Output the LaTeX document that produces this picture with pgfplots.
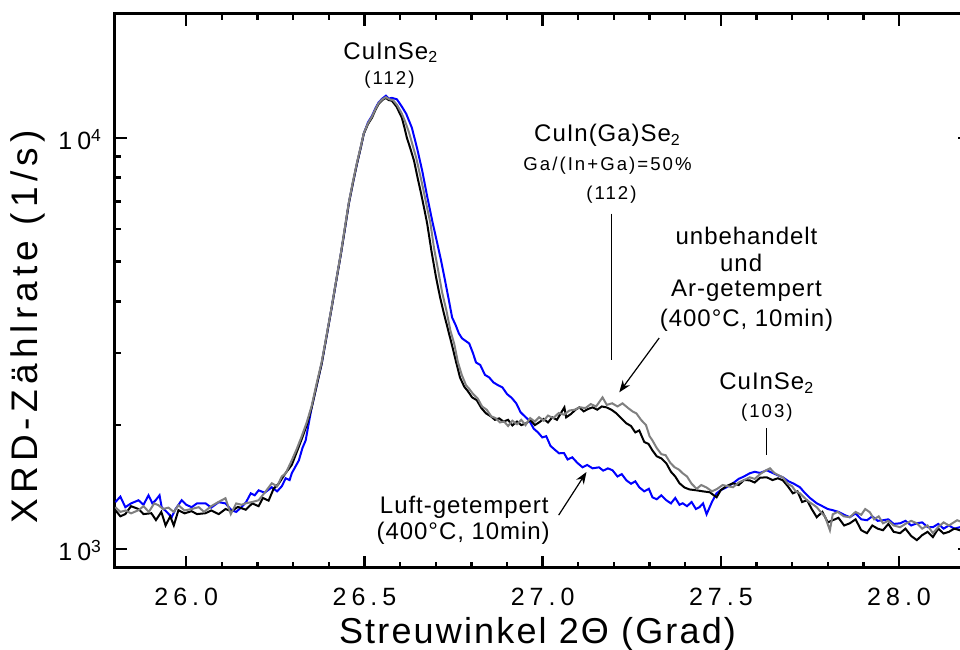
\documentclass[border=0pt]{standalone}
\usepackage{fontspec}
\setmainfont{Liberation Sans}
\usepackage{pgfplots}
\pgfplotsset{compat=1.18}
\usetikzlibrary{arrows.meta}
\newfontfamily\tickfont[LetterSpace=20]{Liberation Sans}
\newfontfamily\ylabfont[LetterSpace=14]{Liberation Sans}
\newfontfamily\xlabfont[LetterSpace=6]{Liberation Sans}
\newfontfamily\annfont[LetterSpace=4]{Liberation Sans}
\newfontfamily\smallfont[LetterSpace=11]{Liberation Sans}
\newcommand\ann{\annfont\fontsize{12}{14}\selectfont}
\newcommand\sml{\smallfont\fontsize{9.3}{11}\selectfont}

\pgfplotstableread{
x y
25.801 1242
25.815 1200
25.829 1215
25.845 1270
25.866 1250
25.880 1215
25.902 1221
25.915 1175
25.930 1230
25.942 1140
25.955 1200
25.965 1140
25.978 1242
25.995 1220
26.015 1235
26.030 1215
26.054 1221
26.070 1240
26.091 1215
26.110 1250
26.127 1235
26.145 1265
26.167 1245
26.185 1290
26.203 1270
26.215 1330
26.231 1310
26.245 1400
26.259 1440
26.279 1530
26.296 1600
26.310 1720
26.324 1850
26.338 2000
26.352 2209
26.366 2500
26.380 2825
26.394 3300
26.408 3864
26.421 4500
26.434 5226
26.445 6000
26.456 6913
26.468 7800
26.479 8648
26.490 9500
26.498 10225
26.510 10800
26.521 11180
26.531 11700
26.540 12090
26.550 12350
26.560 12500
26.568 12350
26.577 12300
26.590 11900
26.605 11180
26.612 10600
26.619 10000
26.629 9400
26.639 8795
26.649 8000
26.659 7311
26.668 6700
26.676 6182
26.688 5300
26.701 4569
26.712 4100
26.723 3736
26.735 3400
26.746 3120
26.757 2850
26.768 2612
26.780 2480
26.790 2420
26.802 2336
26.815 2300
26.828 2200
26.841 2136
26.855 2100
26.866 2060
26.878 2077
26.890 2040
26.903 2060
26.915 1997
26.928 2040
26.940 2000
26.954 2020
26.965 2060
26.978 2000
26.990 2031
27.003 2070
27.015 2030
27.027 2089
27.040 2060
27.050 2130
27.061 2209
27.066 2089
27.080 2130
27.092 2180
27.103 2209
27.115 2160
27.128 2190
27.140 2209
27.153 2180
27.166 2220
27.179 2209
27.193 2180
27.207 2136
27.220 2080
27.235 2020
27.248 1990
27.260 1920
27.271 1942
27.285 1820
27.297 1800
27.308 1736
27.320 1680
27.333 1660
27.347 1615
27.360 1540
27.372 1500
27.384 1444
27.398 1410
27.412 1395
27.432 1388
27.450 1380
27.469 1373
27.488 1335
27.500 1390
27.515 1420
27.534 1444
27.550 1430
27.565 1470
27.581 1468
27.595 1450
27.610 1490
27.629 1493
27.645 1470
27.660 1485
27.674 1468
27.688 1420
27.702 1365
27.715 1380
27.728 1300
27.742 1313
27.755 1250
27.769 1194
27.785 1230
27.800 1160
27.814 1174
27.830 1190
27.846 1140
27.862 1154
27.878 1180
27.894 1110
27.910 1092
27.925 1140
27.940 1120
27.955 1110
27.970 1150
27.985 1100
28.003 1092
28.018 1120
28.034 1075
28.050 1050
28.065 1080
28.080 1100
28.095 1068
28.110 1120
28.125 1090
28.140 1100
28.155 1120
28.171 1110
28.190 1080
}\blackdata

\pgfplotstableread{
x y
25.801 1263
25.815 1230
25.830 1240
25.845 1220
25.866 1242
25.880 1270
25.895 1230
25.910 1290
25.922 1277
25.935 1250
25.950 1260
25.965 1230
25.978 1277
25.995 1240
26.015 1250
26.035 1263
26.050 1230
26.070 1270
26.090 1300
26.110 1328
26.125 1215
26.140 1290
26.155 1280
26.167 1291
26.185 1300
26.203 1313
26.220 1370
26.240 1444
26.255 1420
26.268 1500
26.279 1527
26.296 1642
26.310 1750
26.324 1880
26.338 2030
26.352 2230
26.366 2530
26.380 2850
26.394 3320
26.408 3880
26.421 4520
26.434 5250
26.445 6050
26.456 6950
26.468 7850
26.479 8700
26.490 9550
26.498 10250
26.510 10850
26.521 11250
26.531 11750
26.540 12150
26.550 12400
26.560 12550
26.570 12400
26.580 12350
26.592 12000
26.605 11440
26.615 10900
26.625 10300
26.635 9600
26.645 8950
26.655 8200
26.665 7500
26.675 6800
26.685 6200
26.695 5400
26.706 4800
26.718 4200
26.730 3800
26.741 3400
26.752 3150
26.762 2850
26.773 2650
26.785 2500
26.794 2450
26.805 2380
26.818 2320
26.830 2220
26.843 2180
26.856 2100
26.868 2080
26.880 2030
26.892 2040
26.903 1990
26.915 2050
26.928 2010
26.940 2060
26.952 2000
26.965 2080
26.978 2040
26.990 2090
27.003 2050
27.015 2110
27.030 2080
27.045 2140
27.060 2120
27.075 2170
27.090 2180
27.105 2210
27.120 2200
27.135 2250
27.150 2220
27.168 2336
27.180 2240
27.195 2260
27.210 2220
27.224 2259
27.240 2200
27.252 2160
27.263 2136
27.276 2060
27.290 2000
27.300 1880
27.308 1836
27.320 1760
27.333 1700
27.345 1690
27.358 1620
27.370 1580
27.382 1560
27.393 1527
27.405 1500
27.418 1440
27.432 1400
27.445 1430
27.460 1410
27.475 1380
27.490 1400
27.505 1430
27.520 1420
27.534 1412
27.550 1450
27.565 1470
27.581 1493
27.595 1480
27.610 1520
27.625 1550
27.638 1570
27.650 1530
27.662 1510
27.674 1493
27.688 1440
27.700 1420
27.710 1380
27.722 1365
27.735 1330
27.748 1300
27.760 1280
27.769 1263
27.780 1230
27.792 1200
27.806 1110
27.814 1214
27.828 1230
27.845 1200
27.862 1194
27.878 1230
27.894 1210
27.905 1250
27.918 1228
27.930 1180
27.943 1200
27.955 1154
27.970 1170
27.985 1140
28.003 1129
28.018 1150
28.034 1170
28.050 1154
28.065 1120
28.080 1140
28.095 1092
28.110 1130
28.125 1160
28.140 1140
28.163 1174
28.190 1150
}\graydata

\pgfplotstableread{
x y
25.801 1299
25.815 1340
25.829 1263
25.845 1290
25.866 1313
25.880 1280
25.894 1350
25.905 1290
25.914 1313
25.925 1350
25.931 1263
25.945 1230
25.959 1194
25.970 1250
25.987 1313
26.000 1280
26.015 1263
26.030 1290
26.054 1291
26.070 1260
26.091 1299
26.110 1290
26.127 1242
26.140 1230
26.155 1263
26.168 1300
26.181 1365
26.192 1350
26.203 1388
26.220 1370
26.240 1412
26.255 1380
26.268 1420
26.279 1485
26.290 1470
26.296 1527
26.316 1642
26.326 1760
26.335 1836
26.345 2050
26.352 2209
26.366 2500
26.380 2825
26.394 3300
26.408 3864
26.421 4500
26.434 5226
26.445 6000
26.456 6913
26.468 7800
26.479 8648
26.490 9500
26.498 10225
26.510 10900
26.521 11300
26.531 11800
26.540 12200
26.550 12450
26.560 12650
26.568 12450
26.577 12500
26.591 12400
26.605 11900
26.617 11440
26.625 11000
26.633 10575
26.648 9400
26.662 8313
26.676 7200
26.690 6286
26.703 5600
26.715 5025
26.726 4500
26.737 4018
26.746 3654
26.756 3500
26.765 3341
26.774 3250
26.785 3200
26.794 3159
26.804 3000
26.813 2841
26.825 2800
26.838 2650
26.850 2612
26.862 2540
26.875 2500
26.887 2471
26.900 2380
26.913 2330
26.926 2259
26.938 2150
26.950 2100
26.962 2054
26.975 1960
26.987 1920
26.999 1867
27.010 1880
27.022 1780
27.035 1740
27.046 1708
27.060 1710
27.070 1650
27.083 1670
27.097 1620
27.112 1579
27.125 1600
27.140 1570
27.158 1579
27.170 1550
27.183 1570
27.196 1553
27.210 1500
27.222 1520
27.235 1468
27.248 1440
27.260 1460
27.271 1412
27.285 1380
27.298 1400
27.308 1335
27.320 1320
27.333 1350
27.347 1313
27.360 1290
27.372 1330
27.384 1280
27.393 1291
27.405 1270
27.418 1300
27.430 1250
27.440 1263
27.450 1290
27.460 1214
27.475 1300
27.488 1365
27.500 1390
27.515 1410
27.534 1444
27.550 1480
27.565 1500
27.581 1527
27.595 1540
27.610 1530
27.629 1553
27.645 1530
27.660 1510
27.674 1493
27.690 1460
27.705 1440
27.722 1412
27.735 1370
27.750 1330
27.769 1291
27.785 1270
27.800 1250
27.814 1242
27.830 1230
27.846 1210
27.862 1194
27.878 1220
27.894 1180
27.910 1174
27.925 1200
27.940 1170
27.955 1174
27.970 1180
27.985 1150
28.003 1154
28.018 1170
28.034 1140
28.050 1154
28.065 1160
28.080 1130
28.095 1129
28.110 1150
28.125 1120
28.140 1140
28.155 1120
28.171 1129
28.190 1140
}\bluedata

\begin{document}
\begin{tikzpicture}
\begin{axis}[
  scale only axis,
  width=427.66pt, height=276.85pt,
  ymode=log,
  xmin=25.8, xmax=28.2,
  ymin=900, ymax=20000,
  axis line style={line width=1.5pt},
  tick style={line width=1.2pt,black},
  major tick length=6pt,
  minor tick length=3pt,
  tick align=inside,
  xtick pos=both,
  ytick pos=both,
  xticklabel pos=lower,
  yticklabel pos=left,
  xtick={26,26.5,27,27.5,28},
  xticklabels={26.0,26.5,27.0,27.5,28.0},
  minor x tick num=4,
  ytick={1000,10000},
  yticklabels={10\textsuperscript{3},10\textsuperscript{4}},
  minor ytick={2000,3000,4000,5000,6000,7000,8000,9000},
  xticklabel style={font=\tickfont\fontsize{12.5}{15}\selectfont,anchor=base,yshift=-19pt},
  yticklabel style={font=\tickfont\fontsize{12.5}{15}\selectfont,anchor=base east,xshift=-3pt,yshift=-6pt},
  xlabel={Streuwinkel 2Θ (Grad)},
  ylabel={XRD-Zählrate (1/s)},
  xlabel style={font=\xlabfont\fontsize{18}{22}\selectfont,at={(axis description cs:0.494,-0.1378)},anchor=base},
  ylabel style={font=\ylabfont\fontsize{18.5}{22}\selectfont,at={(axis description cs:-0.1017,0.4347)},anchor=center},
  clip=true,
]
\addplot[blue, line width=1pt] table[x=x,y=y] {\bluedata};
\addplot[black, line width=1pt] table[x=x,y=y] {\blackdata};
\addplot[gray, line width=1pt] table[x=x,y=y] {\graydata};

\node[inner sep=0] at (axis cs:26.574,16100) {\ann CuInSe\textsubscript{2}};
\node[inner sep=0] at (axis cs:26.570,13840) {\sml (112)};
\node[inner sep=0] at (axis cs:27.182,10110) {\ann CuIn(Ga)Se\textsubscript{2}};
\node[inner sep=0] at (axis cs:27.182,8551) {\sml Ga/(In+Ga)=50\%};
\node[inner sep=0] at (axis cs:27.193,7278) {\sml (112)};
\draw[line width=0.6pt] (axis cs:27.193,6538) -- (axis cs:27.193,2874);
\node[inner sep=0] at (axis cs:27.572,5781) {\ann unbehandelt};
\node[inner sep=0] at (axis cs:27.557,4971) {\ann und};
\node[inner sep=0] at (axis cs:27.572,4233) {\ann Ar-getempert};
\node[inner sep=0] at (axis cs:27.572,3593) {\ann (400°C, 10min)};
\draw[line width=0.6pt,-{Stealth[length=6pt,width=4.5pt]}] (axis cs:27.327,3258) -- (axis cs:27.215,2403);
\node[inner sep=0] at (axis cs:27.629,2526) {\ann CuInSe\textsubscript{2}};
\node[inner sep=0] at (axis cs:27.629,2148) {\sml (103)};
\draw[line width=0.6pt] (axis cs:27.629,1965) -- (axis cs:27.629,1689);
\node[inner sep=0] at (axis cs:26.780,1265) {\ann Luft-getempert};
\node[inner sep=0] at (axis cs:26.777,1094) {\ann (400°C, 10min)};
\draw[line width=0.6pt,-{Stealth[length=6pt,width=4.5pt]}] (axis cs:27.045,1208) -- (axis cs:27.123,1538);
\end{axis}
\pgfresetboundingbox
\path[use as bounding box] ([xshift=-57.5pt,yshift=-40.65pt]current axis.south west) rectangle ([xshift=422.5pt,yshift=7pt]current axis.north west);
\end{tikzpicture}
\end{document}
